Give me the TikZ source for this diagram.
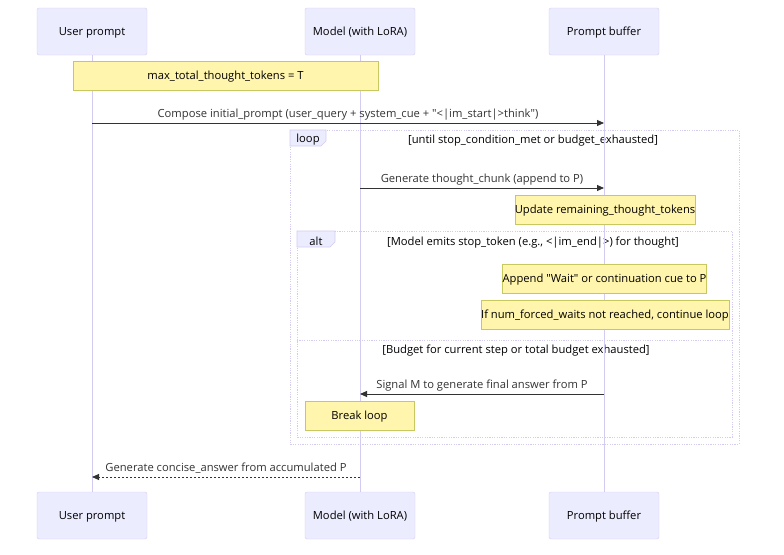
\documentclass[tikz,border=0pt]{standalone}
\usepackage{fontspec}
\setmainfont{Open Sans}
\usetikzlibrary{arrows.meta}
\definecolor{actorfill}{HTML}{ECECFF}
\definecolor{actorline}{HTML}{D3CBF2}
\definecolor{notefill}{HTML}{FFF5AD}
\definecolor{noteline}{HTML}{C8C860}
\definecolor{msgline}{HTML}{333333}

\begin{document}
\begin{tikzpicture}[x=1pt, y=-1pt,
    font=\fontsize{11.2}{13}\selectfont,
    actor/.style={draw=actorline, fill=actorfill, rounded corners=2pt, minimum width=110pt, minimum height=47pt, inner sep=0pt, text height=8.5pt, text depth=1.5pt},
    note/.style={draw=noteline, fill=notefill, minimum height=29pt, inner sep=0pt, text height=8.5pt, text depth=1.5pt},
    msg/.style={draw=msgline, line width=0.9pt, -{Triangle[length=7pt, width=6pt]}},
    reply/.style={msg, dash pattern=on 2pt off 2pt},
    lbl/.style={text=msgline, inner sep=0pt, yshift=8.5pt},
    frame/.style={draw=actorline, line width=0.8pt, dash pattern=on 1.2pt off 1.2pt},
    tab/.style={draw=actorline, fill=actorfill, line width=0.6pt},
    lifeline/.style={draw=actorline, line width=1pt}]
    \useasboundingbox (0,0) rectangle (784,554);

    % Loop and alt frames
    \draw[frame] (290,130) rectangle (739,444);
    \draw[tab] (290,130) -- (326,130) -- (326,141) -- (321,146) -- (290,146) -- cycle;
    \node[inner sep=0pt] (looptag) at (308,139.5) {loop};
    \node[inner sep=0pt] (loopcond) at (533,140.5) {[until stop\_condition\_met or budget\_exhausted]};

    \draw[frame] (297,231) rectangle (732,437);
    \draw[tab] (297,231) -- (335,231) -- (335,242) -- (330,247) -- (297,247) -- cycle;
    \node[inner sep=0pt] (alttag) at (316,241.5) {alt};
    \node[inner sep=0pt] (altcond) at (533,242.5) {[Model emits stop\_token (e.g., <|im\_end|>) for thought]};
    \draw[frame] (297,340) -- (732,340);
    \node[inner sep=0pt] (elsecond) at (516,350.5) {[Budget for current step or total budget exhausted]};

    % Participants and lifelines
    \foreach \name/\x/\txt in {user/92/User prompt, model/360/Model (with LoRA), buf/604/Prompt buffer} {
        \node[actor] (\name top) at (\x,31.5) {\txt};
        \node[actor] (\name bot) at (\x,515.5) {\txt};
        \draw[lifeline] (\name top) -- (\name bot);
    }

    % Notes
    \node[note, minimum width=305pt] (budget) at (225.5,76) {max\_total\_thought\_tokens = T};
    \node[note, minimum width=178pt] (update) at (605,209.5) {Update remaining\_thought\_tokens};
    \node[note, minimum width=201pt] (append) at (604.5,278.5) {Append \textquotedbl Wait\textquotedbl{} or continuation cue to P};
    \node[note, minimum width=240pt] (waits) at (605,314.5) {If num\_forced\_waits not reached, continue loop};
    \node[note, minimum width=109pt] (break) at (359.5,415.5) {Break loop};

    % Messages
    \draw[msg] (usertop |- 0,123) -- (buftop |- 0,123)
        node[lbl, midway] {Compose initial\_prompt (user\_query + system\_cue + \textquotedbl<|im\_start|>think\textquotedbl)};
    \draw[msg] (modeltop |- 0,188) -- (buftop |- 0,188)
        node[lbl, midway] {Generate thought\_chunk (append to P)};
    \draw[msg] (buftop |- 0,394) -- (modeltop |- 0,394)
        node[lbl, midway] {Signal M to generate final answer from P};
    \draw[reply] (modeltop |- 0,477) -- (usertop |- 0,477)
        node[lbl, midway] {Generate concise\_answer from accumulated P};
\end{tikzpicture}
\end{document}
